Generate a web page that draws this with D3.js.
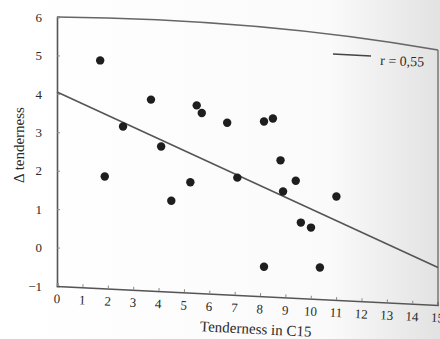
<!DOCTYPE html>
<html>
<head>
<meta charset="utf-8">
<script src="https://d3js.org/d3.v7.min.js"></script>
<style>
    body {margin: 0; background: #fff;}
    svg text {font-family: "Liberation Serif", "DejaVu Serif", serif; fill: #2a2a2a;}
</style>
</head>
<body>
<svg width="440" height="339"></svg>
<script>
// tenderness in C15 (x) vs change in tenderness (y)
const xVals = [1.7, 1.88, 2.6, 3.7, 4.1, 4.5, 5.25, 5.5, 5.7, 6.7, 7.1,
               8.15, 8.5, 8.8, 8.9, 9.4, 9.6, 10.0, 8.15, 10.35, 11.0];
const yVals = [4.87, 1.85, 3.15, 3.85, 2.63, 1.22, 1.7, 3.7, 3.5, 3.25, 1.82,
               3.28, 3.36, 2.27, 1.46, 1.74, 0.65, 0.52, -0.5, -0.52, 1.33];
const xTicks = [0, 1, 2, 3, 4, 5, 6, 7, 8, 9, 10, 11, 12, 13, 14, 15];
const yTicks = [-1, 0, 1, 2, 3, 4, 5, 6];
const fitLine = [[0, 4.05], [15, -0.52]];
const legendText = "r = 0,55";

const svg = d3.select("svg");

// paper shading of the scan toward the right edge
const grad = svg.append("defs").append("linearGradient").attr("id", "paper");
grad.append("stop").attr("offset", "0%").attr("stop-color", "#ffffff");
grad.append("stop").attr("offset", "75%").attr("stop-color", "#fafafa");
grad.append("stop").attr("offset", "100%").attr("stop-color", "#e2e2e2");
svg.append("rect").attr("width", 440).attr("height", 339).attr("fill", "url(#paper)");

const xs = d3.scaleLinear().domain([0, 15]).range([57, 438]);
const ys = d3.scaleLinear().domain([-1, 6]).range([286, 17]);

// frame: top edge is bent in the scan
svg.append("path")
    .attr("d", "M" + xs(0) + "," + ys(6) + " Q" + xs(8) + "," + (ys(6) + 2) + " " + xs(15) + "," + (ys(6) + 33))
    .attr("fill", "none").attr("stroke", "#666").attr("stroke-width", 1.5);
svg.append("line")
    .attr("x1", xs(15)).attr("x2", xs(15))
    .attr("y1", ys(6) + 33).attr("y2", 306)
    .attr("stroke", "#777").attr("stroke-width", 1.5);

// y axis
const yAxis = svg.append("g")
    .attr("transform", "translate(" + xs(0) + ",0)")
    .call(d3.axisLeft(ys).tickValues(yTicks).tickSize(-3).tickPadding(15).tickFormat(d3.format("d")));
yAxis.select(".domain").attr("stroke", "#555").attr("stroke-width", 1.6);
yAxis.selectAll(".tick line").attr("stroke", "#888");
yAxis.selectAll(".tick text").style("font-size", "13px").attr("fill", "#333");

svg.append("text")
    .attr("transform", "translate(24,145) rotate(-90)")
    .style("text-anchor", "middle")
    .style("font-size", "15px")
    .text("Δ tenderness");

// x axis, slightly tilted like the scanned page
const xg = svg.append("g").attr("transform", "rotate(2.85," + xs(0) + "," + ys(-1) + ")");
const xAxis = xg.append("g")
    .attr("transform", "translate(0," + ys(-1) + ")")
    .call(d3.axisBottom(xs).tickValues(xTicks).tickSize(-3).tickPadding(8).tickFormat(d3.format("d")));
xAxis.select(".domain").attr("stroke", "#555").attr("stroke-width", 1.6);
xAxis.selectAll(".tick line").attr("stroke", "#888");
xAxis.selectAll(".tick text").style("font-size", "13px").attr("fill", "#333");
xg.append("text")
    .attr("x", xs(7.9)).attr("y", ys(-1) + 38)
    .style("text-anchor", "middle")
    .style("font-size", "15px")
    .text("Tenderness in C15");

// regression line
svg.append("line")
    .attr("x1", xs(fitLine[0][0])).attr("y1", ys(fitLine[0][1]))
    .attr("x2", xs(fitLine[1][0])).attr("y2", ys(fitLine[1][1]))
    .attr("stroke", "#555").attr("stroke-width", 1.6);

// points
svg.append("g").selectAll("circle")
    .data(xVals)
    .enter()
    .append("circle")
    .attr("cx", function(d) {return xs(d);})
    .attr("cy", function(d, i) {return ys(yVals[i]);})
    .attr("r", 4.2)
    .attr("fill", "#1e1e1e");

// legend
svg.append("line")
    .attr("x1", 333).attr("x2", 371).attr("y1", 54).attr("y2", 56)
    .attr("stroke", "#444").attr("stroke-width", 1.4);
svg.append("text")
    .attr("x", 380).attr("y", 65)
    .attr("transform", "rotate(2,380,65)")
    .style("font-size", "14px")
    .text(legendText);
</script>
</body>
</html>
